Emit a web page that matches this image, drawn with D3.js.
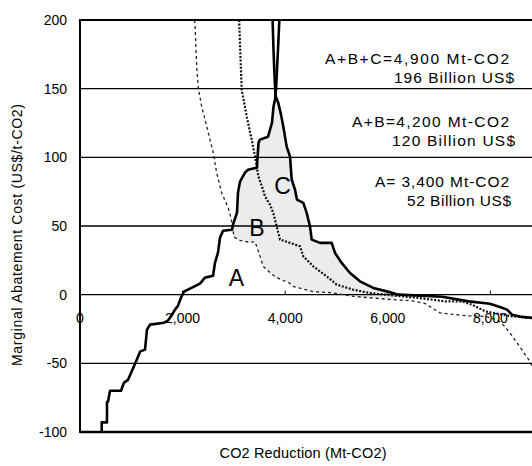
<!DOCTYPE html>
<html><head><meta charset="utf-8">
<script src="https://cdn.jsdelivr.net/npm/d3@7"></script>
<style>
html,body{margin:0;padding:0;background:#fff;}
svg{display:block;font-family:"Liberation Sans",Arial,sans-serif;}
</style></head>
<body><svg id="c" width="532" height="466"></svg>
<script>
// x: CO2 reduction (Mt-CO2), y: marginal abatement cost (US$/t-CO2)
const supplyX = [423,423,526,526,546,585,799,858,936,994,1053,1111,1170,1267,1306,1365,1637,1715,1793,1852,1910,1969,2027,2144,2261,2339,2437,2593,2632,2690,2729,2788,2963,2982,3060,3080,3119,3216,3275,3450,3460,3480,3509,3665,3743,3772,3801,3821,3840,3860,3886];
const supplyY = [-100,-93,-93,-78,-78,-70,-70,-64,-62,-57,-52,-47,-41.5,-40,-25.5,-21.8,-20.4,-18.9,-14.6,-10.9,-8,-2.2,2.2,4.4,6.6,8,12.4,13.8,23.3,30.6,41.5,46.6,47.3,51,59.7,74.3,82.3,88.9,91,92.5,99.8,110.7,112.9,115,125.3,137,142,149.3,164,178.4,200];
const demandCX = [3754,3772,3791,3811,3865,3918,3963,3996,4029,4094,4127,4191,4230,4353,4419,4483,4517,4678,4906,4971,5101,5263,5458,5717,5979,6205,6628,7057,7577,7992,8226,8324,8421,8616,8869];
const demandCY = [200,178.4,160.2,144.9,139.8,131.1,122.4,115.1,107.8,100.5,83.8,76.5,69.2,66.8,59.5,49.7,40.1,37.7,37.7,30.4,23.1,15.8,9.7,4.9,2.4,0,-0.7,-1.5,-4.9,-6.6,-9.5,-10.9,-14.6,-16.2,-17.1];
const demandAX = [2234,2242,2275,2306,2372,2437,2534,2598,2665,2762,2891,2943,2977,3002,3119,3314,3411,3444,3509,3573,3704,3801,3918,4060,4152,4288,4542,4873,5322,5692,6082,6472,6731,7018,7505,7895,8129,8285,8421,8558,8747,8850];
const demandAY = [200,196.7,166.3,150.5,137.1,127.5,112.9,103.2,88.6,74.1,63.1,55.9,48.6,42,39.5,38.1,38.6,35.2,27.9,20.6,16,13.3,10.9,9.1,6,4.7,2.2,1.5,-1.2,-2.4,-3.6,-4.5,-6.5,-13.3,-15.3,-15.8,-18.2,-23.3,-29.9,-37.1,-47.3,-54.6];
const demandBX = [3105,3105,3152,3249,3347,3411,3476,3548,3606,3704,3768,3834,3899,4094,4288,4353,4548,4809,5004,5327,5653,5945,6602,7121,7446,7641,7901,8421,8869];
const demandBY = [200,196.7,149.3,129.9,112.9,100.7,86.2,78.7,71.6,65.5,59.5,49.7,40.1,37.7,35.2,27.9,20.6,13.3,7.3,3.6,1.2,0,-2.4,-4.9,-4.9,-7.3,-12.2,-15.8,-17.1];
const yTicks = [200,150,100,50,0,-50,-100];
const xTicks = [0,2000,4000,6000,8000];
const xTickLabels = ["0","2,000","4,000","6,000","8,000"];
const regionLabels = ["A","B","C"];
const regionPos = [[3050,12],[3450,49],[3950,79]];
const noteLines = ["A+B+C=4,900 Mt-CO2","196 Billion US$","A+B=4,200 Mt-CO2","120 Billion US$","A= 3,400 Mt-CO2","52 Billion US$"];

const svg = d3.select("#c");
const x = d3.scaleLinear().domain([0,9000]).range([80,80+9000*0.0513]);
const y = d3.scaleLinear().domain([-100,200]).range([432,20]);
const pts = (xs,ys)=>xs.map((v,i)=>[v,ys[i]]);
const line = d3.line().x(d=>x(d[0])).y(d=>y(d[1]));

svg.append("clipPath").attr("id","pc").append("rect")
  .attr("x",80).attr("y",y(200)).attr("width",460).attr("height",y(-100)-y(200));

// shaded B+C region
const sup = pts(supplyX,supplyY), dc = pts(demandCX,demandCY), da = pts(demandAX,demandAY);
const poly = sup.filter(d=>d[0]>=2977 && d[1]<=142)
  .concat(dc.filter(d=>d[1]<=145 && d[0]<=6205))
  .concat(da.filter(d=>d[0]>=2977 && d[0]<=6205).reverse());
svg.append("path").attr("d",line(poly)+"Z").attr("fill","#ececec").attr("stroke","none");

// grid lines
svg.append("g").selectAll("line").data(yTicks.filter(v=>v>-100 && v<200)).join("line")
  .attr("x1",80).attr("x2",532).attr("y1",d=>y(d)).attr("y2",d=>y(d))
  .attr("stroke","#000").attr("stroke-width",1.4);
svg.append("line").attr("x1",80).attr("x2",532).attr("y1",y(200)).attr("y2",y(200)).attr("stroke","#000").attr("stroke-width",2);
svg.append("line").attr("x1",80).attr("x2",532).attr("y1",y(-100)).attr("y2",y(-100)).attr("stroke","#000").attr("stroke-width",2.5);
svg.append("line").attr("x1",80).attr("x2",80).attr("y1",y(200)-1).attr("y2",y(-100)+1).attr("stroke","#000").attr("stroke-width",2);

// x ticks on zero line
svg.append("g").selectAll("line").data(xTicks.slice(1)).join("line")
  .attr("x1",d=>x(d)).attr("x2",d=>x(d)).attr("y1",y(0)-4).attr("y2",y(0))
  .attr("stroke","#000").attr("stroke-width",1);

// curves
const g = svg.append("g").attr("clip-path","url(#pc)");
g.append("path").attr("d",line(da)).attr("fill","none").attr("stroke","#222").attr("stroke-width",1.3).attr("stroke-dasharray","3,3");
g.append("path").attr("d",line(pts(demandBX,demandBY))).attr("fill","none").attr("stroke","#111").attr("stroke-width",2.2).attr("stroke-dasharray","2,1.6");
g.append("path").attr("d",line(sup)).attr("fill","none").attr("stroke","#000").attr("stroke-width",2.6).attr("stroke-linejoin","round");
g.append("path").attr("d",line(dc)).attr("fill","none").attr("stroke","#000").attr("stroke-width",2.6).attr("stroke-linejoin","round");

// y tick labels
svg.append("g").selectAll("text").data(yTicks).join("text")
  .attr("x",67).attr("y",d=>y(d)).attr("dy","0.36em").attr("text-anchor","end")
  .attr("font-size",14).text(d=>d);

// x tick labels
svg.append("g").selectAll("text").data(xTicks).join("text")
  .attr("x",d=>x(d)).attr("y",y(0)+28).attr("text-anchor","middle")
  .attr("font-size",14).text((d,i)=>xTickLabels[i]);

// region labels
svg.append("g").selectAll("text").data(regionLabels).join("text")
  .attr("x",(d,i)=>x(regionPos[i][0])).attr("y",(d,i)=>y(regionPos[i][1])).attr("dy","0.36em")
  .attr("text-anchor","middle").attr("font-size",23).text(d=>d);

// annotations
const noteX = [325,394,352,392,375,407], noteEnd = [509,514,509,515,509,511];
const noteBase = [64,83,126.5,146,187,206];
svg.append("g").selectAll("text").data(noteLines).join("text")
  .attr("x",(d,i)=>noteX[i]).attr("y",(d,i)=>noteBase[i])
  .attr("font-size",15.5).attr("textLength",(d,i)=>noteEnd[i]-noteX[i]).attr("lengthAdjust","spacing")
  .text(d=>d);

// axis titles
svg.append("text").attr("transform","translate(22,235) rotate(-90)").attr("text-anchor","middle")
  .attr("font-size",14).attr("textLength",262).attr("lengthAdjust","spacing")
  .text("Marginal Abatement Cost (US$/t-CO2)");
svg.append("text").attr("x",303).attr("y",458).attr("text-anchor","middle")
  .attr("font-size",14.5).attr("textLength",167).attr("lengthAdjust","spacing")
  .text("CO2 Reduction (Mt-CO2)");
</script></body></html>
